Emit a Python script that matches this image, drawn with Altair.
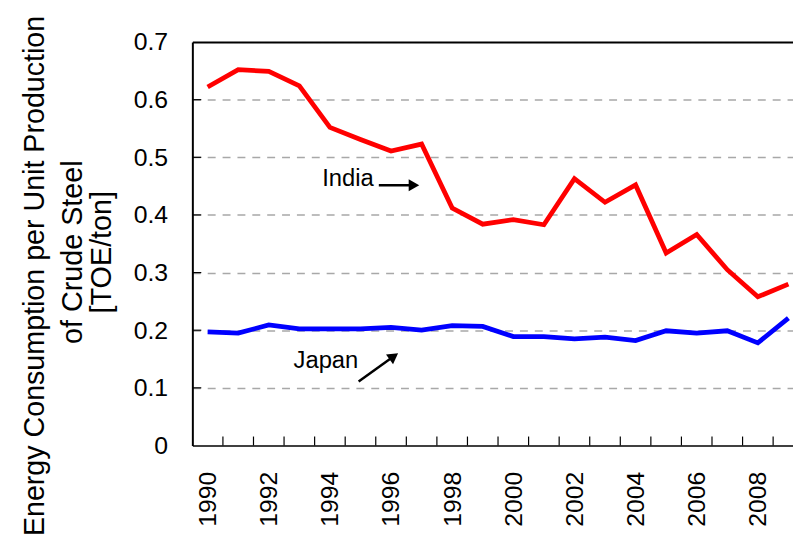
import altair as alt
import pandas as pd

years = list(range(1990, 2010))
india = [0.622, 0.652, 0.649, 0.624, 0.552, 0.531, 0.511, 0.523, 0.412, 0.384,
         0.392, 0.383, 0.463, 0.422, 0.452, 0.334, 0.366, 0.305, 0.258, 0.280]
japan = [0.197, 0.195, 0.209, 0.2025, 0.2025, 0.2025, 0.205, 0.200, 0.208, 0.2065,
         0.189, 0.189, 0.185, 0.188, 0.182, 0.199, 0.195, 0.199, 0.178, 0.221]
label_years = [1990, 1992, 1994, 1996, 1998, 2000, 2002, 2004, 2006, 2008]
y_ticks = [0, 0.1, 0.2, 0.3, 0.4, 0.5, 0.6, 0.7]
y_title = ["Energy Consumption per Unit Production", "of Crude Steel", "[TOE/ton]"]

# annotation texts and arrows (data units)
ann_text = ["India", "Japan"]
ann_tx = [1993.75, 1992.81]
ann_ty = [0.4625, 0.1458]
arrow_x1 = [1995.6, 1994.94]
arrow_y1 = [0.4516, 0.1108]
arrow_x2 = [1996.75, 1996.09]
arrow_y2 = [0.4516, 0.1547]
arrow_angle = [90, 54.5]

W, H = 606, 407
XDOM = [1989.5, 2009.15]
FONT = "Liberation Sans"

df = pd.DataFrame({
    "year": years * 2,
    "value": india + japan,
    "country": ["India"] * len(years) + ["Japan"] * len(years),
})
bounds = pd.DataFrame({"b": [y + 0.5 for y in years[:-1]]})
yt = pd.DataFrame({"v": y_ticks[1:-1]})
texts = pd.DataFrame({"t": ann_text, "x": ann_tx, "y": ann_ty})
arrows = pd.DataFrame({"x1": arrow_x1, "y1": arrow_y1, "x2": arrow_x2,
                       "y2": arrow_y2, "ang": arrow_angle})

xscale = alt.Scale(domain=XDOM, nice=False, zero=False)
yscale = alt.Scale(domain=[0, 0.7], nice=False)

lines = alt.Chart(df).mark_line(strokeWidth=4.8, strokeJoin="miter").encode(
    x=alt.X("year:Q", scale=xscale,
            axis=alt.Axis(values=label_years, labelAngle=-90, labelFontSize=25,
                          labelFont=FONT, labelColor="black", labelPadding=26,
                          ticks=False, tickSize=0, grid=False, title=None,
                          domainColor="black", domainWidth=1.5, format="d",
                          labelFlush=False)),
    y=alt.Y("value:Q", scale=yscale,
            axis=alt.Axis(values=y_ticks, format=".1~f", labelFontSize=25,
                          labelFont=FONT, labelColor="black", labelPadding=25,
                          ticks=False, tickSize=0,
                          domainColor="black", domainWidth=2,
                          grid=True,
                          gridColor={"condition": {"test": "datum.value >= 0.69", "value": "black"},
                                     "value": "#a8a8a8"},
                          gridDash={"condition": {"test": "datum.value >= 0.69", "value": [1, 0]},
                                    "value": [8, 7]},
                          gridWidth={"condition": {"test": "datum.value >= 0.69", "value": 2},
                                     "value": 1.5},
                          gridOpacity={"condition": {"test": "datum.value < 0.01", "value": 0},
                                       "value": 1},
                          title=None)),
    color=alt.Color("country:N",
                    scale=alt.Scale(domain=["India", "Japan"], range=["#ff0000", "#0000ff"]),
                    legend=None),
)

xticks = alt.Chart(bounds).mark_rule(color="black", strokeWidth=1.2).encode(
    x=alt.X("b:Q", scale=xscale),
    y=alt.value(H), y2=alt.value(H - 9),
)
yticks = alt.Chart(yt).mark_rule(color="black", strokeWidth=1.2).encode(
    y=alt.Y("v:Q", scale=yscale),
    x=alt.value(0), x2=alt.value(9),
)

ann = alt.Chart(texts).mark_text(align="left", baseline="middle", fontSize=24,
                                 font=FONT, color="black").encode(
    x=alt.X("x:Q", scale=xscale), y=alt.Y("y:Q", scale=yscale), text="t:N")

arr = alt.Chart(arrows).mark_rule(color="black", strokeWidth=2.5).encode(
    x=alt.X("x1:Q", scale=xscale), y=alt.Y("y1:Q", scale=yscale),
    x2="x2:Q", y2="y2:Q")
heads = alt.Chart(arrows).mark_point(shape="triangle-up", filled=True, size=150,
                                     color="black", opacity=1).encode(
    x=alt.X("x2:Q", scale=xscale), y=alt.Y("y2:Q", scale=yscale),
    angle=alt.Angle("ang:Q", scale=None))

# y-axis title, three lines (rotated)
title_pos = [(-150, 236, 28.9), (-111, 212, 29), (-82, 212, 29)]
title_layers = []
for txt, (tx, ty, fs) in zip(y_title, title_pos):
    title_layers.append(
        alt.Chart(pd.DataFrame({"t": [txt]})).mark_text(
            angle=270, align="center", baseline="alphabetic", fontSize=fs,
            font=FONT, color="black").encode(
            text="t:N", x=alt.value(tx), y=alt.value(ty))
    )

chart = alt.layer(lines, xticks, yticks, ann, arr, heads, *title_layers).properties(
    width=W, height=H,
    autosize=alt.AutoSizeParams(type="none"),
    padding={"left": 186, "top": 32, "right": 0, "bottom": 90},
    background="white",
).configure_view(stroke=None)

chart.save("out.html", embed_options={"renderer": "svg", "actions": False})
